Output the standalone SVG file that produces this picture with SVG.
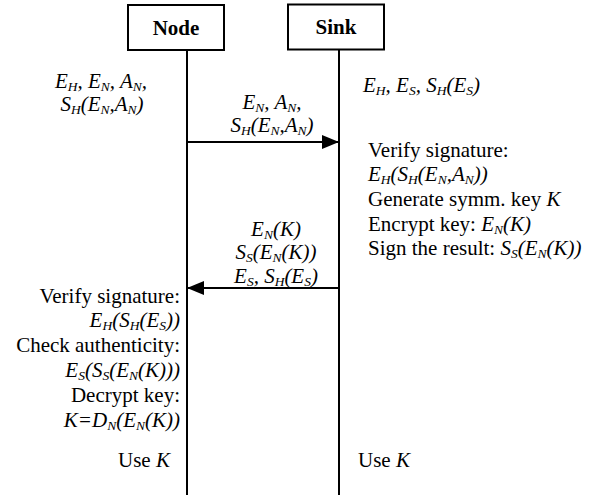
<svg xmlns="http://www.w3.org/2000/svg" width="597" height="497" viewBox="0 0 597 497">
<style>
text{font-family:'Liberation Serif','Times New Roman',serif;font-size:21px;fill:#000}
.b{font-weight:bold}
.i{font-style:italic}
.s{font-size:13.5px}
.box{fill:#fff;stroke:#000;stroke-width:2}
.life{stroke:#000;stroke-width:2;fill:none}
.msg{stroke:#000;stroke-width:2;fill:none}
.m{text-anchor:middle}
.e{text-anchor:end}
</style>
<defs>
<marker id="ah" markerWidth="17" markerHeight="14" refX="17" refY="7" orient="auto" markerUnits="userSpaceOnUse">
<path d="M0,0 L17,7 L0,14 Z" fill="#000"/>
</marker>
</defs>
<g id="node-node">
<rect class="box" x="128" y="5" width="96" height="45"/>
<text class="b m" x="176" y="35">Node</text>
<line class="life" x1="187" y1="50" x2="187" y2="495"/>
</g>
<g id="node-sink">
<rect class="box" x="288" y="4.5" width="96" height="45"/>
<text class="b m" x="336" y="34">Sink</text>
<line class="life" x1="339" y1="49.5" x2="339" y2="495"/>
</g>
<g id="connectors">
<line class="msg" x1="187" y1="142" x2="339" y2="142" marker-end="url(#ah)"/>
<line class="msg" x1="339" y1="288" x2="187" y2="288" marker-end="url(#ah)"/>
</g>
<g id="node-state">
<text class="i m" x="101" y="88">E<tspan class="s" dy="3">H</tspan><tspan dy="-3">, E</tspan><tspan class="s" dy="3">N</tspan><tspan dy="-3">, A</tspan><tspan class="s" dy="3">N</tspan><tspan dy="-3">,</tspan></text>
<text class="i m" x="102" y="111">S<tspan class="s" dy="3">H</tspan><tspan dy="-3">(E</tspan><tspan class="s" dy="3">N</tspan><tspan dy="-3">,A</tspan><tspan class="s" dy="3">N</tspan><tspan dy="-3">)</tspan></text>
</g>
<g id="sink-state">
<text class="i" x="363" y="92">E<tspan class="s" dy="3">H</tspan><tspan dy="-3">, E</tspan><tspan class="s" dy="3">S</tspan><tspan dy="-3">, S</tspan><tspan class="s" dy="3">H</tspan><tspan dy="-3">(E</tspan><tspan class="s" dy="3">S</tspan><tspan dy="-3">)</tspan></text>
</g>
<g id="msg1-label">
<text class="i m" x="272" y="109">E<tspan class="s" dy="3">N</tspan><tspan dy="-3">, A</tspan><tspan class="s" dy="3">N</tspan><tspan dy="-3">,</tspan></text>
<text class="i m" x="272" y="132">S<tspan class="s" dy="3">H</tspan><tspan dy="-3">(E</tspan><tspan class="s" dy="3">N</tspan><tspan dy="-3">,A</tspan><tspan class="s" dy="3">N</tspan><tspan dy="-3">)</tspan></text>
</g>
<g id="sink-steps">
<text x="368" y="157">Verify signature:</text>
<text class="i" x="368" y="181">E<tspan class="s" dy="3">H</tspan><tspan dy="-3">(S</tspan><tspan class="s" dy="3">H</tspan><tspan dy="-3">(E</tspan><tspan class="s" dy="3">N</tspan><tspan dy="-3">,A</tspan><tspan class="s" dy="3">N</tspan><tspan dy="-3">))</tspan></text>
<text x="368" y="206">Generate symm. key <tspan class="i">K</tspan></text>
<text x="368" y="231">Encrypt key: <tspan class="i">E</tspan><tspan class="i s" dy="3">N</tspan><tspan class="i" dy="-3">(K)</tspan></text>
<text x="368" y="255">Sign the result: <tspan class="i">S</tspan><tspan class="i s" dy="3">S</tspan><tspan class="i" dy="-3">(E</tspan><tspan class="i s" dy="3">N</tspan><tspan class="i" dy="-3">(K))</tspan></text>
</g>
<g id="msg2-label">
<text class="i m" x="276" y="236">E<tspan class="s" dy="3">N</tspan><tspan dy="-3">(K)</tspan></text>
<text class="i m" x="276" y="259">S<tspan class="s" dy="3">S</tspan><tspan dy="-3">(E</tspan><tspan class="s" dy="3">N</tspan><tspan dy="-3">(K))</tspan></text>
<text class="i m" x="276" y="283">E<tspan class="s" dy="3">S</tspan><tspan dy="-3">, S</tspan><tspan class="s" dy="3">H</tspan><tspan dy="-3">(E</tspan><tspan class="s" dy="3">S</tspan><tspan dy="-3">)</tspan></text>
</g>
<g id="node-steps">
<text class="e" x="180" y="303">Verify signature:</text>
<text class="i e" x="180" y="327">E<tspan class="s" dy="3">H</tspan><tspan dy="-3">(S</tspan><tspan class="s" dy="3">H</tspan><tspan dy="-3">(E</tspan><tspan class="s" dy="3">S</tspan><tspan dy="-3">))</tspan></text>
<text class="e" x="180" y="352">Check authenticity:</text>
<text class="i e" x="180" y="377">E<tspan class="s" dy="3">S</tspan><tspan dy="-3">(S</tspan><tspan class="s" dy="3">S</tspan><tspan dy="-3">(E</tspan><tspan class="s" dy="3">N</tspan><tspan dy="-3">(K)))</tspan></text>
<text class="e" x="180" y="402">Decrypt key:</text>
<text class="i e" x="180" y="427">K=D<tspan class="s" dy="3">N</tspan><tspan dy="-3">(E</tspan><tspan class="s" dy="3">N</tspan><tspan dy="-3">(K))</tspan></text>
</g>
<g id="use-k">
<text x="118" y="467">Use <tspan class="i">K</tspan></text>
<text x="358" y="467">Use <tspan class="i">K</tspan></text>
</g>
</svg>
